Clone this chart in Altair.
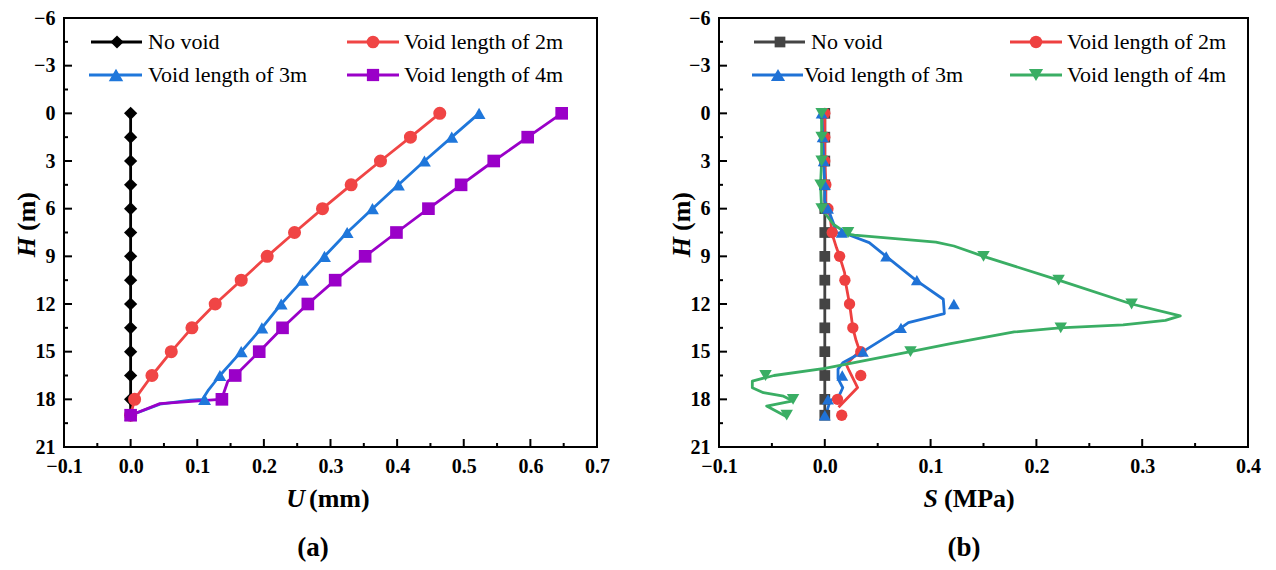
import altair as alt
import pandas as pd

SERIES = ["No void", "Void length of 2m", "Void length of 3m", "Void length of 4m"]

# depths of the plotted markers (m)
H_MARK = [0, 1.5, 3, 4.5, 6, 7.5, 9, 10.5, 12, 13.5, 15, 16.5, 18, 19]

# ---------------- panel (a): displacement U (mm) ----------------
U_NONE = [0, 0, 0, 0, 0, 0, 0, 0, 0, 0, 0, 0, 0, 0]
U_2M = [0.464, 0.420, 0.375, 0.331, 0.288, 0.246, 0.205, 0.166, 0.127, 0.092, 0.061, 0.032, 0.006, 0.0]
U_3M = [0.523, 0.482, 0.441, 0.402, 0.363, 0.325, 0.291, 0.258, 0.226, 0.197, 0.166, 0.134, 0.111, 0.0]
U_4M = [0.647, 0.596, 0.545, 0.496, 0.447, 0.399, 0.352, 0.307, 0.266, 0.228, 0.193, 0.157, 0.137, 0.0]

# line paths of panel (a) (where the line leaves the markers)
LA_3M_H = [0, 1.5, 3, 4.5, 6, 7.5, 9, 10.5, 12, 13.5, 15, 16.5, 17.4, 18.0, 18.05, 18.3, 19]
LA_3M_U = [0.523, 0.482, 0.441, 0.402, 0.363, 0.325, 0.291, 0.258, 0.226, 0.197, 0.166, 0.134, 0.117, 0.108, 0.090, 0.044, 0.0]
LA_4M_H = [0, 1.5, 3, 4.5, 6, 7.5, 9, 10.5, 12, 13.5, 15, 16.5, 16.85, 17.7, 18.0, 18.02, 18.27, 19]
LA_4M_U = [0.647, 0.596, 0.545, 0.496, 0.447, 0.399, 0.352, 0.307, 0.266, 0.228, 0.193, 0.157, 0.146, 0.139, 0.137, 0.129, 0.044, 0.0]

# ---------------- panel (b): stress S (MPa) ----------------
S_NONE = [0, 0, 0, 0, 0, 0, 0, 0, 0, 0, 0, 0, 0, 0]
S_2M = [0.0, 0.0, 0.0, 0.001, 0.003, 0.007, 0.014, 0.019, 0.0234, 0.0265, 0.034, 0.034, 0.012, 0.016]
S_3M = [-0.003, -0.002, -0.001, 0.0, 0.003, 0.016, 0.058, 0.087, 0.122, 0.072, 0.036, 0.0165, 0.003, 0.0]
S_4M = [-0.003, -0.003, -0.003, -0.004, -0.003, 0.022, 0.150, 0.221, 0.290, 0.223, 0.081, -0.056, -0.030, -0.036]

LB_2M_H = [0, 1.5, 3, 4.5, 5.7, 6.46, 7.6, 8.45, 9, 10.03, 10.6, 12, 13.5, 14.3, 14.96, 15.8, 16.2, 17.26, 18.5]
LB_2M_S = [0.0, 0.0, 0.0, 0.001, 0.001, 0.005, 0.007, 0.011, 0.014, 0.0187, 0.0195, 0.0234, 0.0265, 0.0296, 0.033, 0.0203, 0.023, 0.031, 0.013]
LB_3M_H = [0, 1.5, 3, 4.5, 5.5, 6, 6.88, 7.5, 7.66, 8.14, 9, 10.5, 11.7, 12.6, 13.17, 13.5, 15, 15.7, 16.1, 16.7, 17.27, 17.7, 18.1, 19.2]
LB_3M_S = [-0.003, -0.002, -0.001, 0.0, 0.0, 0.003, 0.008, 0.011, 0.023, 0.042, 0.058, 0.086, 0.112, 0.113, 0.079, 0.072, 0.036, 0.017, 0.0125, 0.0125, 0.017, 0.014, 0.005, 0.0]
LB_4M_H = [0, 1.5, 3, 4.5, 6, 6.98, 7.6, 7.66, 8.1, 8.35, 9, 10.5, 12, 12.75, 13.03, 13.32, 13.5, 13.76, 14.5, 15, 16.05, 16.5, 16.85, 17.27, 17.58, 17.8, 18.1, 18.42, 19.1]
LB_4M_S = [-0.003, -0.003, -0.003, -0.004, -0.003, 0.008, 0.022, 0.028, 0.105, 0.122, 0.150, 0.221, 0.290, 0.336, 0.322, 0.282, 0.222, 0.179, 0.119, 0.081, 0.0, -0.048, -0.0685, -0.0685, -0.058, -0.039, -0.030, -0.055, -0.036]

# axis ticks
Y_TICKS = [-6, -3, 0, 3, 6, 9, 12, 15, 18, 21]
Y_MINOR = [-4.5, -1.5, 1.5, 4.5, 7.5, 10.5, 13.5, 16.5, 19.5]
XA_TICKS = [-0.1, 0.0, 0.1, 0.2, 0.3, 0.4, 0.5, 0.6, 0.7]
XA_MINOR = [-0.05, 0.05, 0.15, 0.25, 0.35, 0.45, 0.55, 0.65]
XB_TICKS = [-0.1, 0.0, 0.1, 0.2, 0.3, 0.4]
XB_MINOR = [-0.05, 0.05, 0.15, 0.25, 0.35]

COLORS_A = ["#000000", "#F04545", "#1F77DB", "#9A00C8"]
COLORS_B = ["#444444", "#EE4040", "#1F72D6", "#3AAE64"]
SHAPES_A = ["diamond", "circle", "triangle-up", "square"]
SHAPES_B = ["square", "circle", "triangle-up", "triangle-down"]
SIZES_A = [175, 160, 210, 150]
SIZES_B = [115, 155, 200, 200]

W_A, W_B, HGT = 533, 529, 429
FONT = "Liberation Serif"


def series_frame(names, hs, vs):
    rows = []
    for name, h_list, v_list in zip(names, hs, vs):
        for i, (h, v) in enumerate(zip(h_list, v_list)):
            rows.append({"series": name, "H": h, "V": v, "idx": i})
    return pd.DataFrame(rows)


lines_a = series_frame(SERIES, [H_MARK, H_MARK, LA_3M_H, LA_4M_H], [U_NONE, U_2M, LA_3M_U, LA_4M_U])
marks_a = series_frame(SERIES, [H_MARK] * 4, [U_NONE, U_2M, U_3M, U_4M])
lines_b = series_frame(SERIES, [H_MARK, LB_2M_H, LB_3M_H, LB_4M_H], [S_NONE, LB_2M_S, LB_3M_S, LB_4M_S])
marks_b = series_frame(SERIES, [H_MARK] * 4, [S_NONE, S_2M, S_3M, S_4M])

ONE = pd.DataFrame({"a": [0]})


def text_layer(txt, x, y, size, weight="bold", style="normal", align="center", angle=0):
    return alt.Chart(ONE).mark_text(
        font=FONT, fontSize=size, fontWeight=weight, fontStyle=style,
        align=align, baseline="middle", angle=angle, color="black"
    ).encode(x=alt.value(x), y=alt.value(y), text=alt.value(txt))


def panel(lines, marks, xdom, xticks, xminor, colors, shapes, sizes, width,
          legend, xt_main, xt_unit, x_split, unit_x, label, label_x, ytitle_x):
    xs = alt.Scale(domain=xdom, nice=False, zero=False)
    ys = alt.Scale(domain=[-6, 21], reverse=True, nice=False, zero=False)
    cs = alt.Scale(domain=SERIES, range=colors)

    x_axis = alt.Axis(values=xticks, format=".1f", title=None, ticks=False, domain=False,
                      grid=False, labelPadding=9, labelFlush=False, labelOverlap=False,
                      labelFont=FONT, labelFontSize=20, labelFontWeight="bold", labelColor="black")
    y_axis = alt.Axis(values=Y_TICKS, format="d", title=None, ticks=False, domain=False,
                      grid=False, labelPadding=9, labelFlush=False, labelOverlap=False,
                      labelFont=FONT, labelFontSize=20, labelFontWeight="bold", labelColor="black")

    line = alt.Chart(lines).mark_line(strokeWidth=2.8, strokeJoin="round").encode(
        x=alt.X("V:Q", scale=xs, axis=x_axis),
        y=alt.Y("H:Q", scale=ys, axis=y_axis),
        color=alt.Color("series:N", scale=cs, legend=None),
        detail="series:N",
        order=alt.Order("idx:Q"),
    )
    pts = alt.Chart(marks).mark_point(filled=True, opacity=1).encode(
        x=alt.X("V:Q", scale=xs, axis=x_axis),
        y=alt.Y("H:Q", scale=ys, axis=y_axis),
        color=alt.Color("series:N", scale=cs, legend=None),
        shape=alt.Shape("series:N", scale=alt.Scale(domain=SERIES, range=shapes), legend=None),
        size=alt.Size("series:N", scale=alt.Scale(domain=SERIES, range=sizes), legend=None),
    )

    # inward tick marks
    ytm = alt.Chart(pd.DataFrame({"v": Y_TICKS})).mark_rule(color="black", strokeWidth=2).encode(
        y=alt.Y("v:Q", scale=ys, axis=y_axis), x=alt.value(0), x2=alt.value(8))
    ytn = alt.Chart(pd.DataFrame({"v": Y_MINOR})).mark_rule(color="black", strokeWidth=2).encode(
        y=alt.Y("v:Q", scale=ys, axis=y_axis), x=alt.value(0), x2=alt.value(4))
    xtm = alt.Chart(pd.DataFrame({"v": xticks})).mark_rule(color="black", strokeWidth=2).encode(
        x=alt.X("v:Q", scale=xs, axis=x_axis), y=alt.value(HGT), y2=alt.value(HGT - 8))
    xtn = alt.Chart(pd.DataFrame({"v": xminor})).mark_rule(color="black", strokeWidth=2).encode(
        x=alt.X("v:Q", scale=xs, axis=x_axis), y=alt.value(HGT), y2=alt.value(HGT - 4))

    layers = [line, pts, ytm, ytn, xtm, xtn]

    # legend, drawn in the plot area
    for i, (x0, x1, xm, xt, yy) in enumerate(legend):
        layers.append(alt.Chart(ONE).mark_rule(color=colors[i], strokeWidth=2.8).encode(
            x=alt.value(x0), x2=alt.value(x1), y=alt.value(yy)))
        layers.append(alt.Chart(ONE).mark_point(filled=True, opacity=1, color=colors[i],
                                                shape=shapes[i], size=sizes[i]).encode(
            x=alt.value(xm), y=alt.value(yy)))
        layers.append(text_layer(SERIES[i], xt, yy, 22, weight="normal", align="left"))

    # axis titles and panel label
    layers.append(text_layer(xt_main, x_split, 481, 26, style="italic", align="right"))
    layers.append(text_layer(xt_unit, unit_x, 481, 26, align="left"))
    layers.append(text_layer("H", ytitle_x, 219, 26, style="italic", align="right", angle=270))
    layers.append(text_layer("(m)", ytitle_x, 213, 26, align="left", angle=270))
    layers.append(text_layer(label, label_x, 530, 27))

    return alt.layer(*layers).properties(width=width, height=HGT)


LEG_A = [
    (27, 78, 53, 84, 24),
    (283, 335, 309, 340, 24),
    (25, 78, 52, 84, 57),
    (283, 335, 309, 340, 57),
]
LEG_B = [
    (35, 86, 61, 92, 24),
    (291, 343, 317, 348, 24),
    (33, 84, 59, 85, 57),
    (291, 343, 317, 348, 57),
]

pa = panel(lines_a, marks_a, [-0.1, 0.7], XA_TICKS, XA_MINOR, COLORS_A, SHAPES_A, SIZES_A, W_A,
           LEG_A, "U", "(mm)", 241, 245, "(a)", 249, -37)
pb = panel(lines_b, marks_b, [-0.1, 0.4], XB_TICKS, XB_MINOR, COLORS_B, SHAPES_B, SIZES_B, W_B,
           LEG_B, "S", "(MPa)", 219, 225, "(b)", 245, -37)

chart = alt.hconcat(pa, pb, spacing=122, bounds="flush").resolve_scale(
    x="independent", color="independent", shape="independent", size="independent"
).configure_view(
    stroke="black", strokeWidth=2
).configure_axis(
    labelFont=FONT, labelFontSize=20, labelFontWeight="bold", labelColor="black"
).properties(
    background="white",
    padding={"left": 13, "top": 7, "right": 0, "bottom": 0},
)

chart.save("out.html", embed_options={"renderer": "svg", "actions": False})
